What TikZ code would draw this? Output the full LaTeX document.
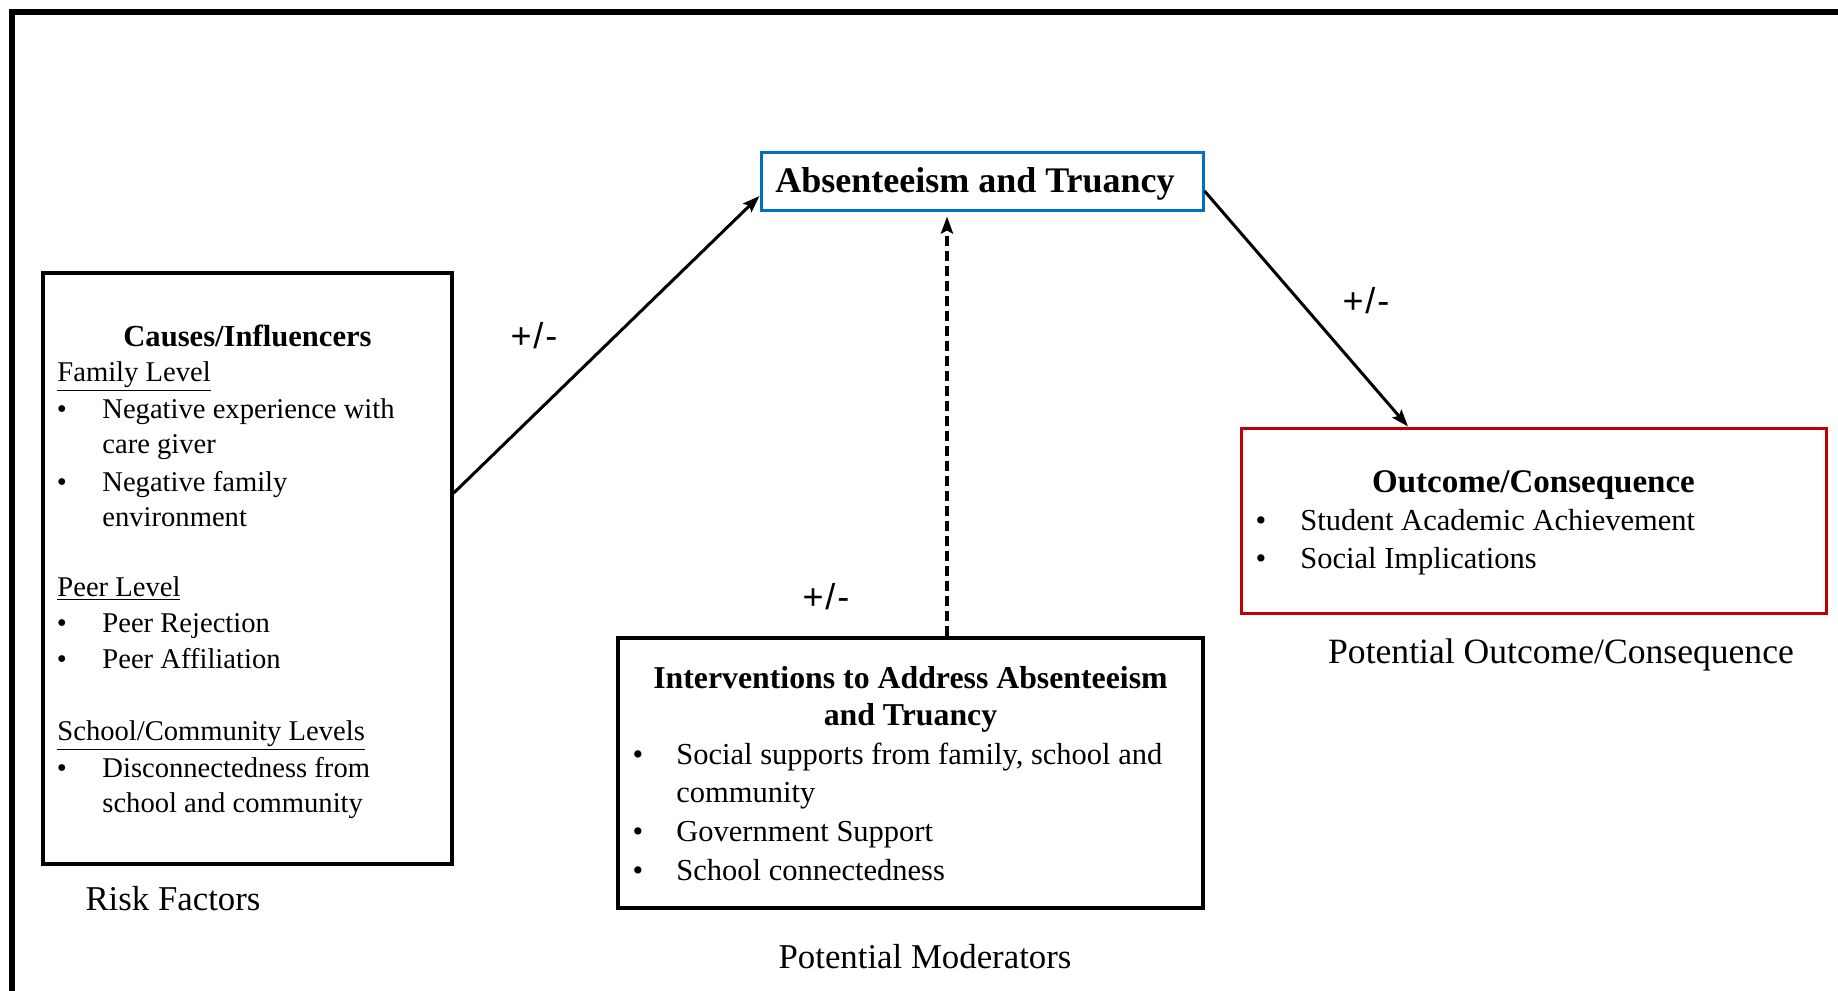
\documentclass[tikz,border=0pt]{standalone}
\usepackage{fontspec}
\setmainfont{Liberation Serif}
\newfontfamily\arialfont{Liberation Sans}
\usetikzlibrary{arrows.meta}
\definecolor{boxblue}{RGB}{0,112,192}
\definecolor{boxred}{RGB}{192,0,0}
\newcommand\lbody{\fontsize{14.3}{17}\selectfont}
\newcommand\mbody{\fontsize{15.25}{18}\selectfont}
\newcommand\plusminus{+\kern0.9pt/\kern0.9pt-}
\begin{document}
\begin{tikzpicture}[x=0.5pt,y=-0.5pt,
  frame/.style={line width=3pt},
  box/.style={draw, line width=1.75pt, inner sep=0pt},
  ln/.style={anchor=mid west, inner sep=0pt, yshift=-3pt},
  bul/.style={anchor=mid, inner sep=0pt, yshift=-3pt},
  ttl/.style={anchor=mid, inner sep=0pt, yshift=-3pt},
  arr/.style={line width=1.5pt, -{Stealth[length=8.5pt,width=6pt,inset=1.5pt]}},
  pm/.style={anchor=mid, inner sep=0pt, yshift=-4pt, font=\arialfont\fontsize{18}{21}\selectfont},
  captxt/.style={anchor=mid, inner sep=0pt, yshift=-3.5pt, font=\fontsize{17.4}{20}\selectfont}]
\useasboundingbox (0,0) rectangle (1838,991);
\draw[frame] (12,991) -- (12,12) -- (1838,12);

% boxes
\node[box, minimum width=204.5pt, minimum height=295.5pt] (risk) at (247.5,568.5) {};
\node[box, draw=boxblue, line width=1.5pt, minimum width=221pt, minimum height=29pt] (absent) at (982,181) {};
\node[box, draw=boxred, line width=1.5pt, minimum width=292.5pt, minimum height=92.5pt] (outcome) at (1533.5,520.5) {};
\node[box, minimum width=292.5pt, minimum height=135pt] (interv) at (910.5,773) {};

% title of the central box
\node[anchor=mid, inner sep=0pt, yshift=-3.25pt, font=\bfseries\fontsize{18}{21}\selectfont] (abt) at (975,181) {Absenteeism and Truancy};

% left box text
\begin{scope}[every node/.append style={font=\lbody}]
\node[ttl, font=\bfseries\fontsize{15.3}{18}\selectfont] (rt) at (247.5,336) {Causes/Influencers};
\node[ln] (r1) at (57,371) {\underline{Family Level}};
\node[bul] (rb1) at (62,408) {\textbullet};
\node[ln] (r2) at (102,408) {Negative experience with};
\node[ln] (r3) at (102,443) {care giver};
\node[bul] (rb2) at (62,481) {\textbullet};
\node[ln] (r4) at (102,481) {Negative family};
\node[ln] (r5) at (102,516) {environment};
\node[ln] (r6) at (57,586) {\underline{Peer Level}};
\node[bul] (rb3) at (62,622) {\textbullet};
\node[ln] (r7) at (102,622) {Peer Rejection};
\node[bul] (rb4) at (62,658) {\textbullet};
\node[ln] (r8) at (102,658) {Peer Affiliation};
\node[ln] (r9) at (57,730) {\underline{School/Community Levels}};
\node[bul] (rb5) at (62,767) {\textbullet};
\node[ln] (r10) at (102,767) {Disconnectedness from};
\node[ln] (r11) at (102,802) {school and community};
\end{scope}

% outcome box text
\begin{scope}[every node/.append style={font=\mbody}]
\node[ttl, font=\bfseries\fontsize{16.5}{19}\selectfont] (ot) at (1533.5,482) {Outcome/Consequence};
\node[bul] (ob1) at (1261,520) {\textbullet};
\node[ln] (o1) at (1300,520) {Student Academic Achievement};
\node[bul] (ob2) at (1261,558) {\textbullet};
\node[ln] (o2) at (1300,558) {Social Implications};
\end{scope}

% interventions box text
\begin{scope}[every node/.append style={font=\mbody}]
\node[ttl, font=\bfseries\fontsize{15.9}{19}\selectfont] (it1) at (910.5,678) {Interventions to Address Absenteeism};
\node[ttl, font=\bfseries\fontsize{15.9}{19}\selectfont] (it2) at (910.5,715) {and Truancy};
\node[bul] (ib1) at (638,754) {\textbullet};
\node[ln] (i1) at (676,754) {Social supports from family, school and};
\node[ln] (i2) at (676,792) {community};
\node[bul] (ib2) at (638,831) {\textbullet};
\node[ln] (i3) at (676,831) {Government Support};
\node[bul] (ib3) at (638,870) {\textbullet};
\node[ln] (i4) at (676,870) {School connectedness};
\end{scope}

% captions
\node[captxt] (c1) at (173,899) {Risk Factors};
\node[captxt] (c2) at (925,957) {Potential Moderators};
\node[captxt, font=\fontsize{17.8}{20}\selectfont] (c3) at (1561,652) {Potential Outcome/Consequence};

% +/- labels
\node[pm] (p1) at (534,336) {\plusminus};
\node[pm] (p2) at (1366,301) {\plusminus};
\node[pm] (p3) at (826,597) {\plusminus};

% connectors
\draw[arr] ([yshift=37.75pt]risk.east) -- ([yshift=-7.5pt]absent.west);
\draw[arr] ([yshift=-5pt]absent.east) -- ([xshift=-62.75pt]outcome.north);
\draw[arr, line width=1.7pt, dash pattern=on 5pt off 2.5pt] ([xshift=18.25pt]interv.north) -- ([xshift=-17.5pt,yshift=-2.5pt]absent.south);
\end{tikzpicture}
\end{document}
